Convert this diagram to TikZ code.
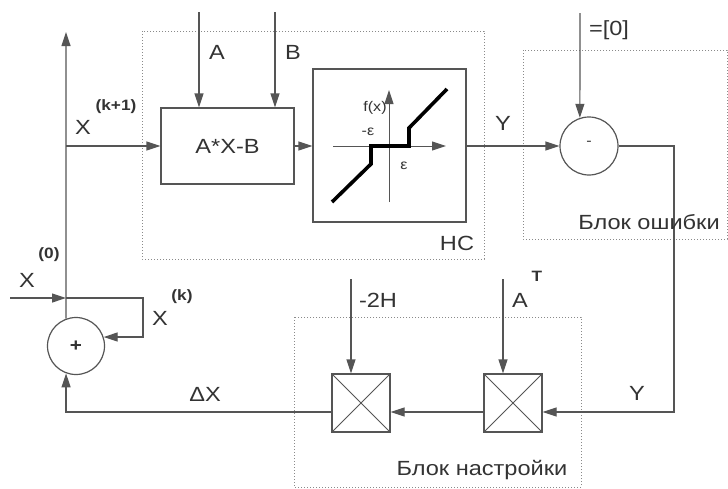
\documentclass[tikz,border=0pt]{standalone}
\usepackage{fontspec}
\setmainfont{Liberation Sans}
\newfontfamily\lab[FakeStretch=1.15]{Liberation Sans}
\usetikzlibrary{arrows.meta,calc}
\definecolor{ln}{HTML}{555555}
\definecolor{tx}{HTML}{333333}
\definecolor{fr}{HTML}{8A8A8A}
\begin{document}
\begin{tikzpicture}[x=1pt,y=-1pt,
  wire/.style={draw=ln,line width=1.2pt},
  arr/.style={wire,-{Triangle[length=14pt,width=9pt]}},
  box/.style={draw=ln,line width=1.2pt,inner sep=0pt,fill=white},
  frame/.style={draw=fr,dotted,line width=1pt},
  lbl/.style={text=tx,font=\lab\fontsize{20.5}{22}\selectfont,inner sep=0pt},
  sup/.style={text=tx,font=\lab\bfseries\fontsize{15}{17}\selectfont,inner sep=0pt},
  small/.style={text=tx,font=\lab\fontsize{14}{16}\selectfont,inner sep=0pt},
  curve/.style={draw=black,line width=3.6pt}]
\useasboundingbox[fill=white] (0,0) rectangle (728,488);

% dotted frames
\draw[frame] (142,31) rectangle (484,259);
\draw[frame] (523,50) rectangle (727,239);
\draw[frame] (294,317) rectangle (581,487);

% blocks
\node[box,minimum width=133pt,minimum height=76pt] (axb) at (227.5,146) {};
\node[lbl] (axbt) at (axb.center) {A*X-B};
\node[box,minimum width=153pt,minimum height=153pt] (nl) at (389.5,145.5) {};
\node[box,circle,minimum size=57pt] (sum) at (76,346) {};
\node[lbl,font=\lab\bfseries\fontsize{18}{20}\selectfont] (sumt) at (sum.center) {+};
\node[box,circle,minimum size=58pt] (err) at (589,146) {};
\node[small] (errt) at (589,143) {-};
\node[box,minimum width=58pt,minimum height=58pt] (m1) at (361,403) {};
\node[box,minimum width=58pt,minimum height=58pt] (m2) at (513,403) {};
\draw[wire,line width=0.8pt] (m1.north west) -- (m1.south east) (m1.north east) -- (m1.south west);
\draw[wire,line width=0.8pt] (m2.north west) -- (m2.south east) (m2.north east) -- (m2.south west);

% nonlinearity plot
\draw[arr,line width=1pt] (333,146) -- (446,146);
\draw[arr,line width=1pt] (389,202) -- (389,90);
\draw[curve] (332,202) -- (371,164) -- (371,146) -- (409,146) -- (409,128) -- (447,89);
\node[small] (fx) at (375,108) {f(x)};
\node[small] (me) at (368,132) {-ε};
\node[small] (pe) at (404,166) {ε};

% coordinates
\coordinate (top) at (66,32);
\coordinate (j1) at (66,146);
\coordinate (x0s) at (10,298);
\coordinate (j2) at (66,298);
\coordinate (fb) at (143,298);
\coordinate (ain) at (199,12);
\coordinate (bin) at (275,12);
\coordinate (zin) at (580,13);
\coordinate (rc) at (674,146);
\coordinate (hin) at (351,279);
\coordinate (atin) at (503,279);

% connectors
\draw[arr] (sum.110) -- (top);
\draw[arr] (j1) -- (axb.west);
\draw[arr] (ain) -- (ain |- axb.north);
\draw[arr] (bin) -- (bin |- axb.north);
\draw[arr] (axb.east) -- (nl.west |- axb.east);
\draw[arr] (nl.east |- err.west) -- (err.west);
\draw[arr] (zin) -- (err.108);
\draw[arr] (err.east) -- (rc) -- (rc |- {$(m2.east)+(0,9)$}) -- ($(m2.east)+(0,9)$);
\draw[arr] ($(m2.west)+(0,9)$) -- ($(m1.east)+(0,9)$);
\draw[arr] ($(m1.west)+(0,9)$) -| (sum.250);
\draw[arr] (hin) -- (hin |- m1.north);
\draw[arr] (atin) -- (atin |- m2.north);
\draw[arr] (x0s) -- (j2);
\draw[arr] (j2) -- (fb) |- (sum.18);

% labels
\node[lbl] (la) at (217,52) {A};
\node[lbl] (lb) at (293,52) {B};
\node[lbl] (lx1) at (83,127) {X};
\node[sup] (lx1s) at (116,107) {(k+1)};
\node[lbl] (lhc) at (457,243) {НС};
\node[lbl] (ly1) at (503,123) {Y};
\node[lbl] (lz) at (609,30) {=[0]};
\node[lbl] (lerr) at (649,222) {Блок ошибки};
\node[lbl] (lx0) at (27,280) {X};
\node[sup] (lx0s) at (49,255) {(0)};
\node[lbl] (lxk) at (160,318) {X};
\node[sup] (lxks) at (182,297) {(k)};
\node[lbl] (ldx) at (205,394) {ΔX};
\node[lbl] (l2h) at (378,300) {-2H};
\node[lbl] (lat) at (520,300) {A};
\node[sup] (lats) at (537,276) {T};
\node[lbl] (ly2) at (637,393) {Y};
\node[lbl] (ltune) at (482,470) {Блок настройки};
\end{tikzpicture}
\end{document}
